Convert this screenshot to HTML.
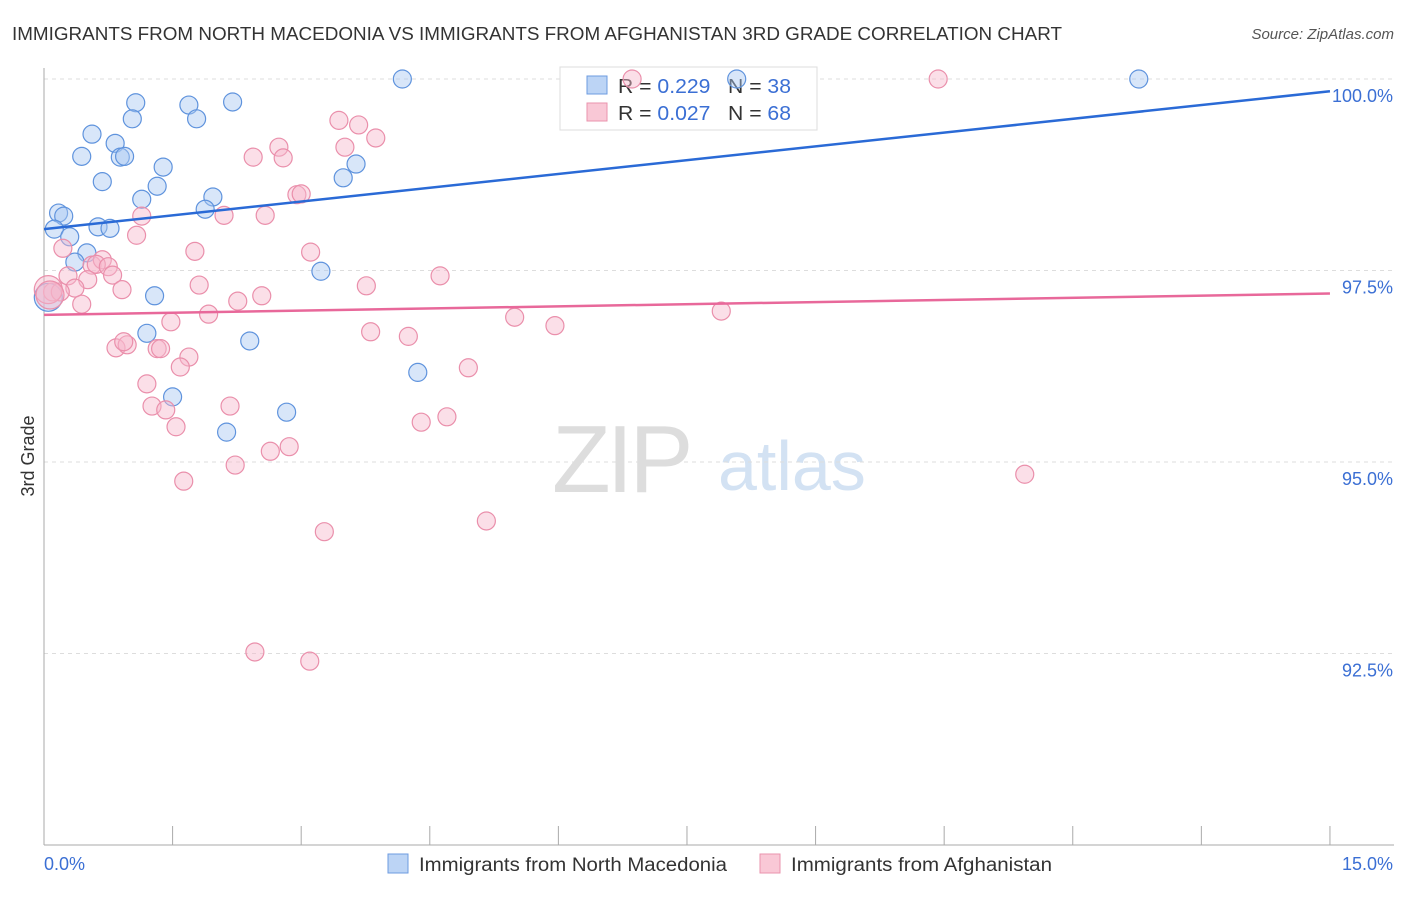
<!DOCTYPE html>
<html><head><meta charset="utf-8"><style>
body{margin:0;background:#fff;font-family:"Liberation Sans",sans-serif}
svg text{font-family:"Liberation Sans",sans-serif}
</style></head><body>
<svg id="c" width="1406" height="892">
<text x="12" y="40" font-size="18" fill="#333" textLength="1050" lengthAdjust="spacingAndGlyphs">IMMIGRANTS FROM NORTH MACEDONIA VS IMMIGRANTS FROM AFGHANISTAN 3RD GRADE CORRELATION CHART</text>
<text x="1394" y="39" font-size="15" fill="#555" text-anchor="end" font-style="italic">Source: ZipAtlas.com</text>
<text x="34" y="456" font-size="18" fill="#333" text-anchor="middle" transform="rotate(-90 34 456)">3rd Grade</text>
<g><text x="552" y="492" font-size="96" fill="#ddd" font-family="Liberation Serif" letter-spacing="-4">ZIP</text><text x="718" y="490" font-size="70" fill="#d3e2f3">atlas</text></g>
<g id="grid"></g><g id="axes"></g>
<g>
<rect x="560" y="67" width="257" height="63" fill="#fff" stroke="#ddd"/>
<rect x="587" y="76" width="20" height="18" fill="#bcd4f5" stroke="#6d9be0"/>
<rect x="587" y="103" width="20" height="18" fill="#f9c8d6" stroke="#ea93ad"/>
<text x="618" y="93" font-size="20" fill="#333" textLength="173" lengthAdjust="spacingAndGlyphs">R = <tspan fill="#3b6fd4">0.229</tspan>&#160;&#160;&#160;N = <tspan fill="#3b6fd4">38</tspan></text>
<text x="618" y="120" font-size="20" fill="#333" textLength="173" lengthAdjust="spacingAndGlyphs">R = <tspan fill="#3b6fd4">0.027</tspan>&#160;&#160;&#160;N = <tspan fill="#3b6fd4">68</tspan></text>
</g>
<g id="pts"></g><g id="lines"></g>
<g>
<rect x="388" y="854" width="20" height="19" fill="#bcd4f5" stroke="#6d9be0"/>
<text x="419" y="871" font-size="19" fill="#333" textLength="308" lengthAdjust="spacingAndGlyphs">Immigrants from North Macedonia</text>
<rect x="760" y="854" width="20" height="19" fill="#f9c8d6" stroke="#ea93ad"/>
<text x="791" y="871" font-size="19" fill="#333" textLength="261" lengthAdjust="spacingAndGlyphs">Immigrants from Afghanistan</text>
</g>
</svg>
<script>
const xTicks=[0,1.5,3,4.5,6,7.5,9,10.5,12,13.5,15];
const yTicks=[92.5,95,97.5,100];
const yTickLabels=["92.5%","95.0%","97.5%","100.0%"];
const bluePx=[[402,79],[737,79],[1139,79],[136,103],[189,105],[233,102],[132,119],[197,119],[92,134],[115,143],[82,156],[120,157],[125,156],[163,167],[356,164],[343,178],[102,182],[157,186],[213,197],[142,199],[205,209],[59,213],[64,216],[54,229],[98,227],[110,228],[70,237],[87,253],[75,262],[321,271],[155,296],[48,297],[147,333],[250,341],[418,372],[173,397],[287,412],[227,432]];
const pinkPx=[[632,79],[938,79],[339,120],[359,125],[376,138],[345,147],[279,147],[253,157],[283,158],[297,195],[301,194],[142,216],[224,215],[265,215],[137,235],[63,248],[195,251],[311,252],[92,265],[102,260],[96,264],[108,267],[113,275],[68,276],[88,280],[75,288],[122,290],[199,285],[366,286],[440,276],[262,296],[238,301],[82,304],[53,292],[60,292],[48,290],[209,314],[515,317],[555,326],[721,311],[171,322],[371,332],[408,336],[116,348],[127,345],[124,342],[157,349],[161,349],[189,357],[180,367],[468,368],[147,384],[152,406],[166,410],[230,406],[421,422],[447,417],[176,427],[289,447],[270,451],[235,465],[184,481],[1025,474],[486,521],[324,532],[255,652],[310,661],[50,295]];
const blueX=bluePx.map(p=>+((p[0]-44)/85.73).toFixed(2));
const blueY=bluePx.map(p=>+(100-(p[1]-79)/76.6).toFixed(2));
const pinkX=pinkPx.map(p=>+((p[0]-44)/85.73).toFixed(2));
const pinkY=pinkPx.map(p=>+(100-(p[1]-79)/76.6).toFixed(2));
const blueTrend=[98.04,99.84];
const pinkTrend=[96.92,97.2];
const X=v=>44+v*85.73, Y=v=>79+(100-v)*76.6;
const NS="http://www.w3.org/2000/svg";
function mk(t,a,p){const e=document.createElementNS(NS,t);for(const k in a)e.setAttribute(k,a[k]);p.appendChild(e);return e;}
const grid=document.getElementById('grid'),axes=document.getElementById('axes'),pts=document.getElementById('pts'),lines=document.getElementById('lines');
yTicks.forEach((v,i)=>{
 const l=mk('line',{x1:44,x2:1394,y1:Y(v),y2:Y(v),stroke:'#ddd','stroke-dasharray':'4,4'},grid);
 
 
 const t=mk('text',{x:1393,y:Y(v)+23,'font-size':18,fill:'#3b6fd4','text-anchor':'end'},axes);
 t.textContent=yTickLabels[i];
 
 
});
const ya=mk('line',{x1:44,x2:44,y1:68,y2:845,stroke:'#aaa'},axes);


const xa=mk('line',{x1:44,x2:1394,y1:845,y2:845,stroke:'#aaa'},axes);


xTicks.forEach(v=>{const l=mk('line',{x1:X(v),x2:X(v),y1:826,y2:845,stroke:'#aaa'},axes);
 
 });
const t0=mk('text',{x:44,y:870,'font-size':18,fill:'#3b6fd4'},axes);t0.textContent='0.0%';


const t1=mk('text',{x:1393,y:870,'font-size':18,fill:'#3b6fd4','text-anchor':'end'},axes);t1.textContent='15.0%';


function dots(xs,ys,fill,stroke,name){xs.forEach((x,i)=>{
 const big=(x<0.1&&Math.abs(ys[i]-97.2)<0.15);
 const c=mk('circle',{cx:X(x),cy:Y(ys[i]),r:big?14:9,fill:fill,'fill-opacity':0.45,stroke:stroke,'stroke-width':1.2},pts);
 
 });}
dots(blueX,blueY,'#a9c8f2','#5f93dd','point-north-macedonia');
dots(pinkX,pinkY,'#f7b9cb','#ea8fab','point-afghanistan');
const bl=mk('line',{x1:X(0),y1:Y(blueTrend[0]),x2:X(15),y2:Y(blueTrend[1]),stroke:'#2a6ad6','stroke-width':2.5},lines);


const pl=mk('line',{x1:X(0),y1:Y(pinkTrend[0]),x2:X(15),y2:Y(pinkTrend[1]),stroke:'#e8689a','stroke-width':2.5},lines);


</script>
</body></html>
